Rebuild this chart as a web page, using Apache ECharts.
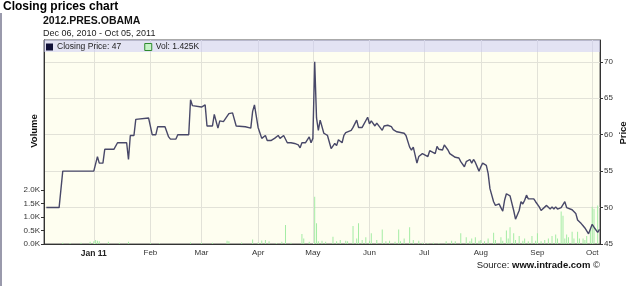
<!DOCTYPE html>
<html>
<head>
<meta charset="utf-8">
<script src="https://cdn.jsdelivr.net/npm/echarts@6/dist/echarts.min.js"></script>
<style>
html,body{margin:0;padding:0;background:#fff;}
#chart{width:640px;height:286px;}
</style>
</head>
<body>
<div id="chart"></div>
<script>
// ---- data ----
const priceDates = ['2010-12-06','2010-12-13','2010-12-15','2011-01-01','2011-01-03','2011-01-04','2011-01-06','2011-01-07','2011-01-12','2011-01-14','2011-01-19','2011-01-20','2011-01-21','2011-01-23','2011-01-24','2011-01-31','2011-02-02','2011-02-04','2011-02-05','2011-02-09','2011-02-11','2011-02-12','2011-02-15','2011-02-16','2011-02-22','2011-02-23','2011-02-24','2011-03-01','2011-03-03','2011-03-04','2011-03-07','2011-03-08','2011-03-10','2011-03-11','2011-03-13','2011-03-16','2011-03-18','2011-03-19','2011-03-20','2011-03-25','2011-03-28','2011-03-29','2011-03-30','2011-03-31','2011-04-01','2011-04-02','2011-04-03','2011-04-04','2011-04-05','2011-04-06','2011-04-08','2011-04-10','2011-04-12','2011-04-13','2011-04-15','2011-04-17','2011-04-19','2011-04-21','2011-04-23','2011-04-24','2011-04-25','2011-04-27','2011-04-29','2011-04-30','2011-05-01','2011-05-02','2011-05-03','2011-05-04','2011-05-05','2011-05-07','2011-05-09','2011-05-11','2011-05-13','2011-05-14','2011-05-15','2011-05-17','2011-05-18','2011-05-19','2011-05-20','2011-05-22','2011-05-23','2011-05-25','2011-05-26','2011-05-28','2011-05-29','2011-05-31','2011-06-01','2011-06-02','2011-06-04','2011-06-05','2011-06-06','2011-06-08','2011-06-09','2011-06-11','2011-06-13','2011-06-14','2011-06-16','2011-06-18','2011-06-20','2011-06-21','2011-06-23','2011-06-24','2011-06-25','2011-06-27','2011-06-28','2011-06-30','2011-07-01','2011-07-03','2011-07-04','2011-07-05','2011-07-07','2011-07-08','2011-07-09','2011-07-11','2011-07-12','2011-07-14','2011-07-15','2011-07-16','2011-07-18','2011-07-19','2011-07-20','2011-07-21','2011-07-23','2011-07-24','2011-07-26','2011-07-27','2011-07-28','2011-07-29','2011-07-31','2011-08-01','2011-08-02','2011-08-04','2011-08-05','2011-08-06','2011-08-07','2011-08-08','2011-08-09','2011-08-11','2011-08-12','2011-08-13','2011-08-14','2011-08-15','2011-08-17','2011-08-18','2011-08-19','2011-08-20','2011-08-21','2011-08-22','2011-08-23','2011-08-24','2011-08-25','2011-08-26','2011-08-27','2011-08-28','2011-08-30','2011-08-31','2011-09-01','2011-09-02','2011-09-03','2011-09-04','2011-09-06','2011-09-07','2011-09-08','2011-09-09','2011-09-10','2011-09-11','2011-09-12','2011-09-14','2011-09-15','2011-09-16','2011-09-17','2011-09-18','2011-09-20','2011-09-21','2011-09-22','2011-09-23','2011-09-24','2011-09-25','2011-09-26','2011-09-27','2011-09-29','2011-10-01','2011-10-02','2011-10-04','2011-10-05'];
const priceValues = [50,50,55,55,57,56.1,56.1,58,58,58.9,58.9,56.6,59.9,59.9,62.1,62.3,60,60,61.1,61.1,59.7,59.4,59.4,60,60,64.8,64,63.8,64.1,61.2,61.2,62.8,60.9,61.9,61.8,62.9,63,63,61.2,61.1,60.9,63.2,64.1,64,61,60.8,59.5,59.7,59.9,59.2,59.2,59.5,59.9,59.5,59.9,58.9,58.9,58.8,58.6,58.2,58.9,58.9,59.7,58.9,59.5,70,62.3,60.6,62,60.2,59.9,58.1,58.8,58.5,59.3,58.9,59.9,60.3,60.2,60.6,61,62,61,61,61.2,62.4,61.5,61.9,61.2,61.6,61.4,60.6,61.2,61.3,61.1,60.7,60.4,60.3,60.2,59.9,58.3,57.9,58.3,56.1,57,57.4,57.2,57,57.8,57.8,57.4,58.4,58,57.9,58.6,57.9,57.4,57.3,56.9,57.1,56.8,56.3,55.6,56.3,56.6,56.1,56.6,56.2,55,55.6,56.1,55.8,54.7,52.6,52.4,50.8,50.3,50.5,50,49.5,51,51.9,51.6,51.4,49.6,48.4,48.4,49.6,50.8,50.5,51,51.7,51.2,51.4,51.2,50.8,50.6,50.1,49.6,49.8,50.3,50.1,49.8,50.1,49.8,50.1,49.8,50,50.4,50.8,50,50,49.7,49.5,49.2,48.3,48.5,47.8,47.5,47.2,46.4,47.7,47.3,46.6,47];
const volDates = ['2010-12-15','2010-12-19','2010-12-25','2010-12-30','2011-01-01','2011-01-02','2011-01-03','2011-01-04','2011-01-09','2011-01-15','2011-01-20','2011-02-01','2011-02-06','2011-02-23','2011-03-01','2011-03-07','2011-03-15','2011-03-16','2011-03-23','2011-03-29','2011-04-01','2011-04-03','2011-04-05','2011-04-07','2011-04-11','2011-04-14','2011-04-16','2011-04-19','2011-04-25','2011-04-26','2011-04-29','2011-05-02','2011-05-03','2011-05-04','2011-05-06','2011-05-08','2011-05-12','2011-05-14','2011-05-16','2011-05-19','2011-05-20','2011-05-23','2011-05-25','2011-05-26','2011-05-28','2011-05-30','2011-06-01','2011-06-02','2011-06-05','2011-06-08','2011-06-10','2011-06-12','2011-06-15','2011-06-17','2011-06-18','2011-06-20','2011-06-23','2011-06-25','2011-06-28','2011-06-30','2011-07-03','2011-07-06','2011-07-09','2011-07-13','2011-07-16','2011-07-18','2011-07-21','2011-07-24','2011-07-26','2011-07-27','2011-07-29','2011-07-31','2011-08-01','2011-08-03','2011-08-05','2011-08-08','2011-08-09','2011-08-12','2011-08-13','2011-08-15','2011-08-16','2011-08-17','2011-08-19','2011-08-20','2011-08-22','2011-08-24','2011-08-25','2011-08-27','2011-08-29','2011-08-31','2011-09-01','2011-09-03','2011-09-05','2011-09-07','2011-09-09','2011-09-11','2011-09-12','2011-09-14','2011-09-15','2011-09-16','2011-09-17','2011-09-18','2011-09-20','2011-09-21','2011-09-23','2011-09-24','2011-09-26','2011-09-27','2011-09-28','2011-09-30','2011-10-01','2011-10-02','2011-10-04'];
const volValues = [0.05,0.04,0.05,0.08,0.1,0.15,0.12,0.1,0.08,0.05,0.08,0.04,0.03,0.06,0.05,0.05,0.12,0.1,0.06,0.17,0.06,0.13,0.15,0.1,0.04,0.08,0.7,0.05,0.37,0.2,0.08,1.75,0.77,0.1,0.12,0.08,0.27,0.1,0.15,0.12,0.1,0.67,0.2,0.77,0.15,0.25,0.12,0.4,0.15,0.54,0.1,0.12,0.08,0.54,0.1,0.2,0.62,0.15,0.12,0.05,0.04,0.05,0.03,0.1,0.12,0.1,0.4,0.25,0.1,0.2,0.25,0.12,0.15,0.1,0.2,0.42,0.15,0.25,0.12,0.5,0.2,0.62,0.4,0.15,0.3,0.12,0.2,0.1,0.3,0.12,0.4,0.1,0.15,0.2,0.3,0.35,0.2,1.2,1.05,0.2,0.35,0.25,0.45,0.2,0.45,0.2,0.2,0.15,0.3,0.55,1.38,1.3,1.425];
const monthNames = ['Jan','Feb','Mar','Apr','May','Jun','Jul','Aug','Sep','Oct','Nov','Dec'];
const priceTicks = [45,50,55,60,65,70];
const volTicks = [0,0.5,1,1.5,2];

const FONT = '"Liberation Sans", Arial, sans-serif';
const lastPrice = priceValues[priceValues.length-1];
const lastVol = volValues[volValues.length-1];

const chart = echarts.init(document.getElementById('chart'), null, {renderer:'canvas'});
chart.setOption({
  animation:false,
  textStyle:{fontFamily:FONT},
  grid:{left:44,right:40,top:40,bottom:42,show:true,backgroundColor:'#fefef0',borderColor:'#555',borderWidth:1},
  legend:{
    left:46, top:42.5, padding:0, itemWidth:7, itemHeight:7, itemGap:23,
    selectedMode:false,
    textStyle:{fontFamily:FONT,fontSize:8.5,color:'#222',padding:[0,0,0,-1]},
    data:[
      {name:'Closing Price',icon:'rect',itemStyle:{color:'#101038',borderWidth:0}},
      {name:'Vol',icon:'rect',itemStyle:{color:'#c6f3c6',borderColor:'#2e8a2e',borderWidth:1}}
    ],
    formatter:function(n){return n==='Closing Price' ? 'Closing Price: '+lastPrice : 'Vol: '+lastVol+'K';}
  },
  xAxis:{
    type:'time',
    min:'2010-12-05', max:'2011-10-05',
    minInterval:31*86400000, maxInterval:31*86400000,
    axisLine:{lineStyle:{color:'#333',width:1}},
    axisTick:{show:false},
    splitLine:{show:true,lineStyle:{color:'#e2e2d8',width:1}},
    axisLabel:{
      margin:5, color:'#333', fontSize:8, fontFamily:FONT, hideOverlap:false,
      formatter:function(v){
        const d=new Date(v);
        if(d.getDate()!==1) return '';
        const m=d.getMonth();
        if(m===0) return '{b|Jan '+String(d.getFullYear()).slice(2)+'}';
        return monthNames[m];
      },
      rich:{b:{fontWeight:'bold',fontSize:8.5,color:'#222',fontFamily:FONT}}
    }
  },
  yAxis:[
    {
      type:'value', position:'left', min:0, max:7.55,
      axisLine:{show:true,lineStyle:{color:'#333'}},
      axisTick:{show:true,length:3,customValues:volTicks,lineStyle:{color:'#333'}},
      splitLine:{show:false},
      axisLabel:{customValues:volTicks,margin:4,fontSize:8,color:'#333',fontFamily:FONT,
        formatter:function(v){return v.toFixed(1)+'K';}}
    },
    {
      type:'value', position:'right', min:45, max:73, interval:5,
      axisLine:{show:true,lineStyle:{color:'#333'}},
      axisTick:{show:true,length:3,customValues:priceTicks,lineStyle:{color:'#333'}},
      splitLine:{show:true,lineStyle:{color:'#e2e2d8',width:1}},
      axisLabel:{customValues:priceTicks,margin:4,fontSize:8,color:'#333',fontFamily:FONT}
    }
  ],
  series:[
    {
      name:'Vol', type:'bar', yAxisIndex:0, barWidth:1, barGap:'0%',
      itemStyle:{color:'#a4eca4'},
      data:volDates.map((d,i)=>[d,volValues[i]])
    },
    {
      name:'Closing Price', type:'line', yAxisIndex:1, showSymbol:false, symbol:'none',
      lineStyle:{color:'#484868',width:1.4},
      itemStyle:{color:'#101038'},
      data:priceDates.map((d,i)=>[d,priceValues[i]]),
      markArea:{silent:true,itemStyle:{color:'rgba(200,200,245,0.5)'},
        data:[[{yAxis:71.35},{yAxis:73}]]}
    }
  ],
  graphic:[
    {type:'rect',left:0,top:13,shape:{width:2,height:273},style:{fill:'#9a9aac'}},
    {type:'text',x:3,y:7,style:{text:'Closing prices chart',font:'bold 12px '+FONT,fill:'#000',textVerticalAlign:'middle'}},
    {type:'text',x:43,y:21,style:{text:'2012.PRES.OBAMA',font:'bold 10.5px '+FONT,fill:'#111',textVerticalAlign:'middle'}},
    {type:'text',x:43,y:33.5,style:{text:'Dec 06, 2010 - Oct 05, 2011',font:'9px '+FONT,fill:'#222',textVerticalAlign:'middle'}},
    {type:'text',x:34,y:131,rotation:Math.PI/2,style:{text:'Volume',font:'bold 9.5px '+FONT,fill:'#111',textAlign:'center',textVerticalAlign:'middle'}},
    {type:'text',x:623,y:133,rotation:Math.PI/2,style:{text:'Price',font:'bold 9.5px '+FONT,fill:'#111',textAlign:'center',textVerticalAlign:'middle'}},
    {type:'text',x:600,y:265,style:{
      text:'{a|Source: }{b|www.intrade.com}{a| \u00a9}',
      textAlign:'right',textVerticalAlign:'middle',
      rich:{a:{font:'9.5px '+FONT,fill:'#222'},b:{font:'bold 9.5px '+FONT,fill:'#111'}}
    }}
  ]
});
</script>
</body>
</html>
